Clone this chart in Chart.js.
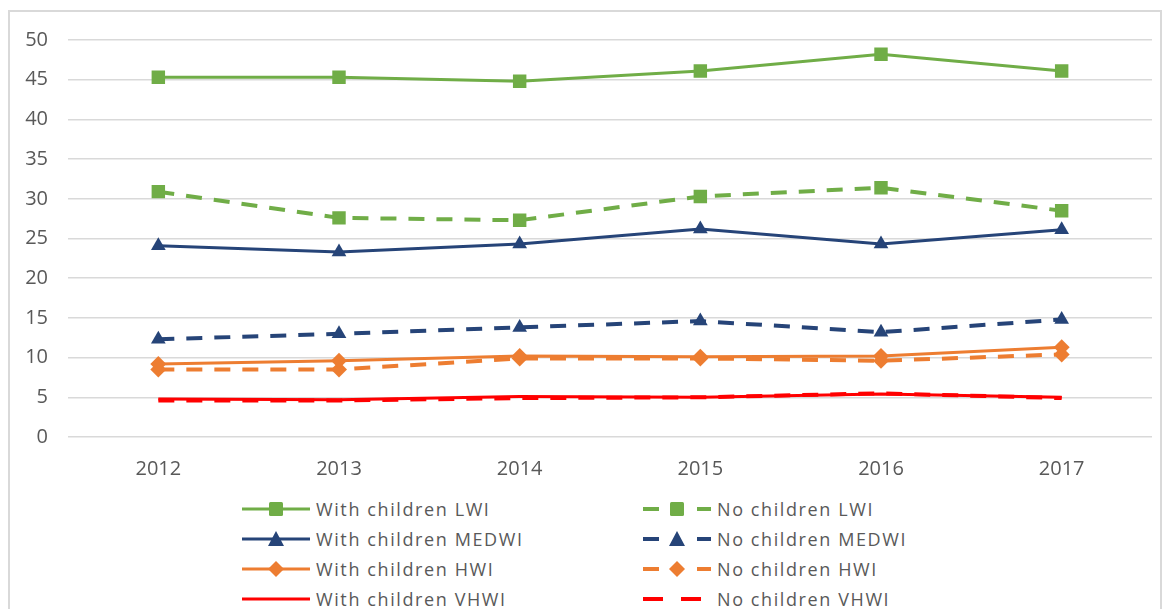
<!DOCTYPE html>
<html>
<head>
<meta charset="utf-8">
<script src="https://cdn.jsdelivr.net/npm/chart.js@4"></script>
<style>
  body { margin: 0; background: #fff; font-family: 'Open Sans', sans-serif; }
  .frame { position: absolute; left: 8px; top: 10px; width: 1150px; height: 640px; border: 2px solid #d9d9d9; }
  .wrap { position: absolute; left: 0; top: 0; width: 1173px; height: 493px; }
  #legend { position: absolute; left: 242px; top: 494px; display: grid; grid-template-columns: 401px 420px; row-gap: 0; }
  .item { display: flex; align-items: center; height: 30px; color: #595959; font-size: 18px; letter-spacing: 1.6px; }
  .item svg { margin-right: 6px; }
</style>
</head>
<body>
<div class="frame"></div>
<div class="wrap"><canvas id="chart"></canvas></div>
<div id="legend"></div>
<script>
// ===== Data =====
const years = ['2012', '2013', '2014', '2015', '2016', '2017'];
const withLWI   = [45.3, 45.3, 44.8, 46.1, 48.2, 46.1];
const noLWI     = [30.9, 27.6, 27.3, 30.3, 31.4, 28.5];
const withMEDWI = [24.1, 23.3, 24.3, 26.2, 24.3, 26.1];
const noMEDWI   = [12.3, 13.0, 13.8, 14.6, 13.2, 14.8];
const withHWI   = [9.2, 9.6, 10.2, 10.1, 10.2, 11.3];
const noHWI     = [8.5, 8.5, 9.9, 9.9, 9.6, 10.4];
const withVHWI  = [4.8, 4.7, 5.1, 5.0, 5.4, 5.0];
const noVHWI    = [4.6, 4.6, 4.9, 5.0, 5.5, 4.9];
const yTicks = [0, 5, 10, 15, 20, 25, 30, 35, 40, 45, 50];

const GREEN = '#70ad47', NAVY = '#264478', ORANGE = '#ed7d31', RED = '#ff0000';
const DASH = [16, 12];

function series(label, data, color, style, dashed, width) {
  const radius = style === 'rect' ? 9.5 : style === 'triangle' ? 8.5 : style === 'rectRot' ? 8 : 0;
  return {
    label: label,
    data: data,
    borderColor: color,
    backgroundColor: color,
    borderWidth: width || 3,
    borderDash: dashed ? DASH : [],
    pointStyle: style || false,
    pointRadius: radius,
    pointBorderWidth: 0,
    pointHoverRadius: radius,
    tension: 0
  };
}

// order: rows of legend (with / no) pairs
const datasets = [
  series('With children LWI', withLWI, GREEN, 'rect', false),
  series('No children LWI', noLWI, GREEN, 'rect', true, 4),
  series('With children MEDWI', withMEDWI, NAVY, 'triangle', false),
  series('No children MEDWI', noMEDWI, NAVY, 'triangle', true, 4),
  series('With children HWI', withHWI, ORANGE, 'rectRot', false),
  series('No children HWI', noHWI, ORANGE, 'rectRot', true, 4),
  series('With children VHWI', withVHWI, RED, null, false),
  series('No children VHWI', noVHWI, RED, null, true, 4)
];

Chart.defaults.font.family = "'Open Sans', sans-serif";
Chart.defaults.color = '#595959';

const chart = new Chart(document.getElementById('chart'), {
  type: 'line',
  data: { labels: years, datasets: datasets },
  options: {
    responsive: true,
    maintainAspectRatio: false,
    animation: false,
    layout: { padding: { top: 40, right: 21, left: 0, bottom: 0 } },
    plugins: { legend: { display: false }, tooltip: { enabled: false } },
    scales: {
      x: {
        offset: true,
        grid: { display: false },
        border: { display: false },
        ticks: { font: { size: 20 }, padding: 12, color: '#595959' }
      },
      y: {
        min: 0,
        max: 50,
        afterBuildTicks: axis => { axis.ticks = yTicks.map(v => ({ value: v })); },
        afterFit: axis => { axis.width = 68; },
        grid: { color: '#d9d9d9', lineWidth: 1.5, drawTicks: false },
        border: { display: false },
        ticks: { font: { size: 20 }, padding: 20, color: '#595959' }
      }
    }
  }
});

// ===== HTML legend in two columns =====
function markerSvg(ds) {
  const c = ds.borderColor;
  let line;
  if (ds.borderDash.length) {
    line = ds.pointStyle
      ? `<line x1="0" y1="10" x2="16" y2="10" stroke="${c}" stroke-width="4"/><line x1="54" y1="10" x2="68" y2="10" stroke="${c}" stroke-width="4"/>`
      : `<line x1="0" y1="10" x2="20" y2="10" stroke="${c}" stroke-width="4"/><line x1="38" y1="10" x2="58" y2="10" stroke="${c}" stroke-width="4"/>`;
  } else {
    line = `<line x1="0" y1="10" x2="68" y2="10" stroke="${c}" stroke-width="3"/>`;
  }
  let mark = '';
  if (ds.pointStyle === 'rect') mark = `<rect x="27" y="3" width="14" height="14" rx="1.5" fill="${c}"/>`;
  if (ds.pointStyle === 'triangle') mark = `<polygon points="34,2 42,17 26,17" fill="${c}"/>`;
  if (ds.pointStyle === 'rectRot') mark = `<polygon points="34,2 42,10 34,18 26,10" fill="${c}"/>`;
  return `<svg width="68" height="20">${line}${mark}</svg>`;
}

const legend = document.getElementById('legend');
chart.data.datasets.forEach(ds => {
  const el = document.createElement('div');
  el.className = 'item';
  el.innerHTML = markerSvg(ds) + '<span>' + ds.label + '</span>';
  legend.appendChild(el);
});
</script>
</body>
</html>
